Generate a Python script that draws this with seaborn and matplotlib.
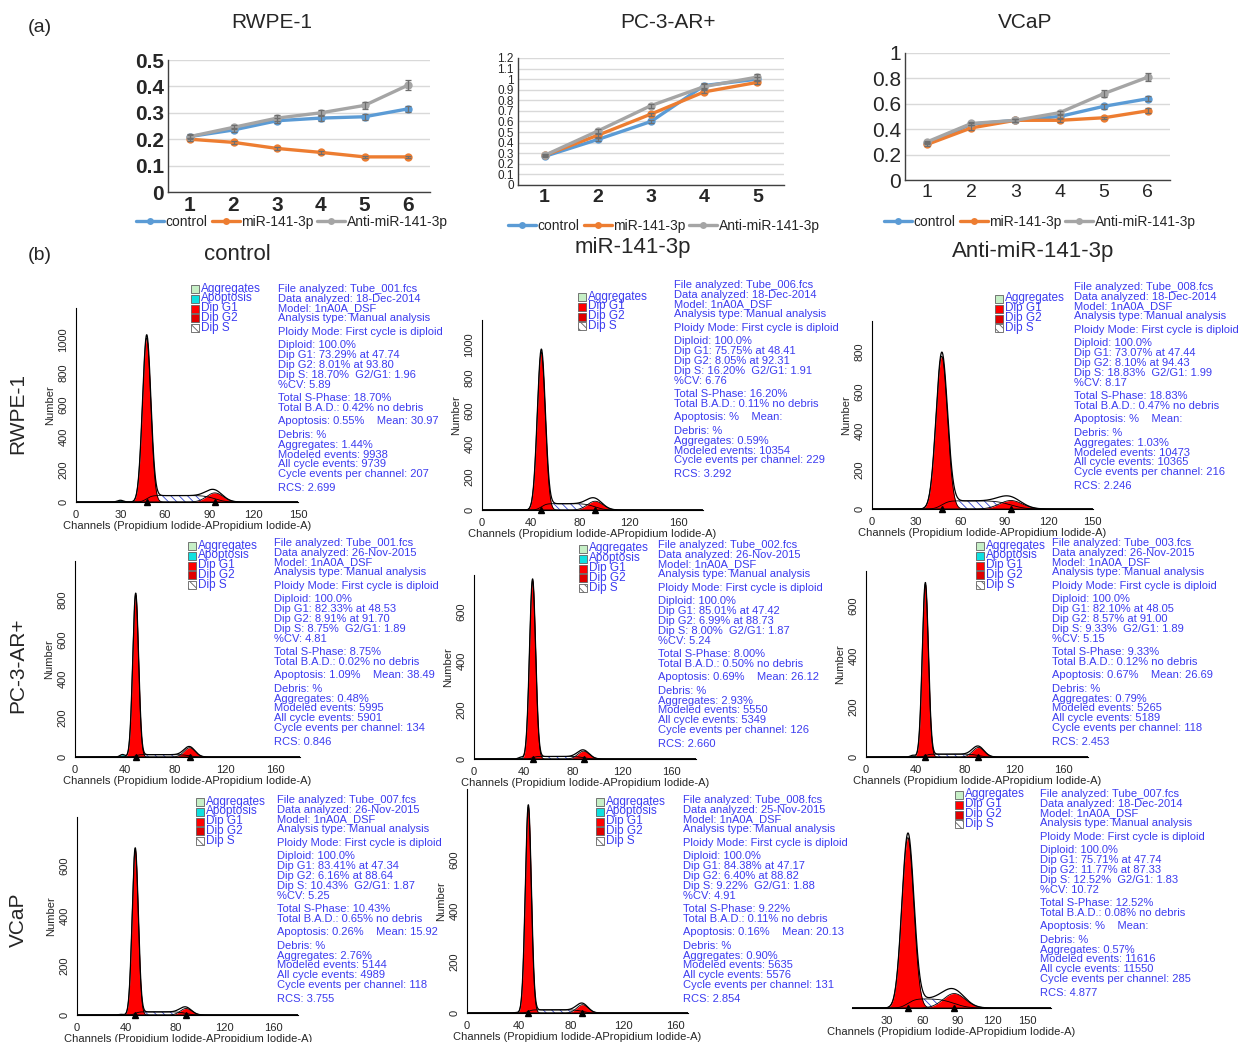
import math
import numpy as np
import pandas as pd
import matplotlib
matplotlib.use("Agg")
import matplotlib.pyplot as plt
from matplotlib.patches import Rectangle
from matplotlib.lines import Line2D
from matplotlib.ticker import MultipleLocator
import seaborn as sns

W, H = 1245, 1042

# ---- (a) growth curves ----
groups = ['control', 'miR-141-3p', 'Anti-miR-141-3p']

rwpe_days = [1, 2, 3, 4, 5, 6]
rwpe_control = [0.21, 0.235, 0.27, 0.28, 0.285, 0.315]
rwpe_mir = [0.20, 0.188, 0.165, 0.15, 0.133, 0.133]
rwpe_anti = [0.21, 0.245, 0.28, 0.30, 0.328, 0.405]
rwpe_err_control = [0.007, 0.007, 0.01, 0.012, 0.012, 0.012]
rwpe_err_mir = [0.005, 0.005, 0.006, 0.005, 0.005, 0.005]
rwpe_err_anti = [0.008, 0.008, 0.01, 0.012, 0.012, 0.02]

pc3_days = [1, 2, 3, 4, 5]
pc3_control = [0.27, 0.43, 0.60, 0.94, 1.0]
pc3_mir = [0.28, 0.47, 0.67, 0.88, 0.97]
pc3_anti = [0.28, 0.51, 0.75, 0.93, 1.02]
pc3_err_control = [0.01, 0.015, 0.015, 0.02, 0.02]
pc3_err_mir = [0.01, 0.015, 0.015, 0.015, 0.015]
pc3_err_anti = [0.01, 0.015, 0.02, 0.02, 0.03]

vcap_days = [1, 2, 3, 4, 5, 6]
vcap_control = [0.29, 0.44, 0.47, 0.50, 0.58, 0.64]
vcap_mir = [0.28, 0.41, 0.47, 0.47, 0.49, 0.545]
vcap_anti = [0.30, 0.445, 0.47, 0.53, 0.68, 0.81]
vcap_err_control = [0.01, 0.01, 0.01, 0.01, 0.02, 0.02]
vcap_err_mir = [0.01, 0.02, 0.01, 0.01, 0.01, 0.02]
vcap_err_anti = [0.01, 0.01, 0.01, 0.01, 0.025, 0.03]

# ---- (b) cell cycle analysis, row-major: RWPE-1, PC-3-AR+, VCaP ----
file_names = ['Tube_001.fcs', 'Tube_006.fcs', 'Tube_008.fcs',
              'Tube_001.fcs', 'Tube_002.fcs', 'Tube_003.fcs',
              'Tube_007.fcs', 'Tube_008.fcs', 'Tube_007.fcs']
dates = ['18-Dec-2014', '18-Dec-2014', '18-Dec-2014',
         '26-Nov-2015', '26-Nov-2015', '26-Nov-2015',
         '26-Nov-2015', '25-Nov-2015', '18-Dec-2014']
g1_pct = [73.29, 75.75, 73.07, 82.33, 85.01, 82.10, 83.41, 84.38, 75.71]
g1_pos = [47.74, 48.41, 47.44, 48.53, 47.42, 48.05, 47.34, 47.17, 47.74]
g2_pct = [8.01, 8.05, 8.10, 8.91, 6.99, 8.57, 6.16, 6.40, 11.77]
g2_pos = [93.80, 92.31, 94.43, 91.70, 88.73, 91.00, 88.64, 88.82, 87.33]
s_pct = [18.70, 16.20, 18.83, 8.75, 8.00, 9.33, 10.43, 9.22, 12.52]
g2g1 = [1.96, 1.91, 1.99, 1.89, 1.87, 1.89, 1.87, 1.88, 1.83]
cv = [5.89, 6.76, 8.17, 4.81, 5.24, 5.15, 5.25, 4.91, 10.72]
bad = [0.42, 0.11, 0.47, 0.02, 0.50, 0.12, 0.65, 0.11, 0.08]
apoptosis = [0.55, None, None, 1.09, 0.69, 0.67, 0.26, 0.16, None]
apop_pos = [30, None, None, 38, 38, 38, 36, 38, None]
mean_ch = [30.97, None, None, 38.49, 26.12, 26.69, 15.92, 20.13, None]
aggregates = [1.44, 0.59, 1.03, 0.48, 2.93, 0.79, 2.76, 0.90, 0.57]
modeled = [9938, 10354, 10473, 5995, 5550, 5265, 5144, 5635, 11616]
cycle_events = [9739, None, 10365, 5901, 5349, 5189, 4989, 5576, 11550]
per_channel = [207, 229, 216, 134, 126, 118, 118, 131, 285]
rcs = ['2.699', '3.292', '2.246', '0.846', '2.660', '2.453', '3.755', '2.854', '4.877']

sns.set_style("white")
plt.rcParams['font.family'] = ['Liberation Sans', 'DejaVu Sans']
plt.rcParams['hatch.linewidth'] = 0.6

fig = plt.figure(figsize=(12.45, 10.42), dpi=100)
BLUE = '#3c3cf0'
line_colors = {'control': '#5b9bd5', 'miR-141-3p': '#ed7d31', 'Anti-miR-141-3p': '#a5a5a5'}


def px_axes(left, top, right, bottom):
    return fig.add_axes([left / W, 1 - bottom / H, (right - left) / W, (bottom - top) / H])


def ftext(x, y, s, **kw):
    return fig.text(x / W, 1 - y / H, s, **kw)


def growth_panel(rect, title, title_xy, days, series, errs, ymax, ystep,
                 ysize, yweight, xsize, xweight, legend_xy):
    ax = px_axes(*rect)
    df = pd.DataFrame({
        'day': days * 3,
        'od': series[0] + series[1] + series[2],
        'group': sum([[g] * len(days) for g in groups], []),
    })
    sns.lineplot(data=df, x='day', y='od', hue='group', hue_order=groups,
                 palette=line_colors, marker='o', markersize=6, markeredgewidth=0,
                 linewidth=2.4, ax=ax, legend=False)
    for vals, err in zip(series, errs):
        ax.errorbar(days, vals, yerr=err, fmt='none', ecolor='#6f6f6f',
                    elinewidth=0.9, capsize=2, capthick=0.9)
    ax.set_xlim(0.5, len(days) + 0.5)
    ax.set_ylim(0, ymax)
    ax.set_xticks(days)
    yt = np.round(np.arange(0, ymax + 1e-9, ystep), 2)
    ax.set_yticks(yt)
    ax.set_yticklabels(['%g' % v for v in yt], fontsize=ysize, fontweight=yweight)
    ax.set_xticklabels([str(d) for d in days], fontsize=xsize, fontweight=xweight)
    ax.tick_params(length=0, pad=3)
    ax.yaxis.grid(True, color='#d9d9d9', lw=1)
    ax.set_axisbelow(True)
    for s in ['top', 'right']:
        ax.spines[s].set_visible(False)
    for s in ['left', 'bottom']:
        ax.spines[s].set_color('#404040')
        ax.spines[s].set_linewidth(1.0)
    ax.set_xlabel('')
    ax.set_ylabel('')
    ftext(title_xy[0], title_xy[1], title, ha='center', va='center', fontsize=15)
    handles = [Line2D([], [], color=line_colors[g], marker='o', markersize=5, lw=2.4,
                      markeredgewidth=0) for g in groups]
    fig.legend(handles, groups, loc='center', ncol=3, frameon=False, fontsize=10,
               bbox_to_anchor=(legend_xy[0] / W, 1 - legend_xy[1] / H),
               handlelength=2.0, handletextpad=0.1, columnspacing=0.3)
    return ax


growth_panel((168, 60, 430, 192), 'RWPE-1', (272, 22), rwpe_days,
             [rwpe_control, rwpe_mir, rwpe_anti],
             [rwpe_err_control, rwpe_err_mir, rwpe_err_anti],
             0.5, 0.1, 15, 'bold', 15, 'bold', (292, 222))
growth_panel((518, 58, 784, 185), 'PC-3-AR+', (668, 22), pc3_days,
             [pc3_control, pc3_mir, pc3_anti],
             [pc3_err_control, pc3_err_mir, pc3_err_anti],
             1.2, 0.1, 8.5, 'normal', 14, 'bold', (664, 226))
growth_panel((905, 53, 1170, 180), 'VCaP', (1025, 22), vcap_days,
             [vcap_control, vcap_mir, vcap_anti],
             [vcap_err_control, vcap_err_mir, vcap_err_anti],
             1.0, 0.2, 15, 'normal', 14, 'normal', (1040, 222))

ftext(40, 28, '(a)', fontsize=14, ha='center', va='center')
ftext(40, 255, '(b)', fontsize=14, ha='center', va='center')

# column / row headers
for (cx, cy), lbl in zip([(237, 254), (633, 248), (1033, 251)],
                         ['control', 'miR-141-3p', 'Anti-miR-141-3p']):
    ftext(cx, cy, lbl, fontsize=16, ha='center', va='center')
for cy, lbl in zip([413, 665, 920], ['RWPE-1', 'PC-3-AR+', 'VCaP']):
    ftext(18, cy, lbl, fontsize=15, ha='center', va='center', rotation=90)

# histogram geometry (pixel): x of channel 0, px per channel, y of count 0, px per count
hist_geo = [
    (76, 1.48, 502, 0.162, 150, 1200, 30, 1000),
    (482, 1.225, 510, 0.165, 180, 1150, 40, 1000),
    (872, 1.47, 509, 0.196, 150, 960, 30, 800),
    (75, 1.25, 757, 0.196, 180, 1000, 40, 800),
    (474, 1.235, 759, 0.245, 180, 750, 40, 600),
    (866, 1.235, 757, 0.252, 180, 740, 40, 600),
    (77, 1.23, 1015, 0.248, 180, 800, 40, 600),
    (467, 1.30, 1013, 0.255, 170, 880, 40, 600),
    (852, 1.17, 1008, 0.25, 170, 750, 30, 0),
]
text_xy = [(278, 284), (674, 280), (1074, 282), (274, 538), (658, 540), (1052, 538),
           (277, 795), (683, 795), (1040, 789)]
legend_xy = [(191, 284), (578, 292), (995, 294), (188, 541), (579, 544), (976, 541),
             (196, 797), (596, 797), (955, 790)]

serf = np.vectorize(math.erf)


def gauss(x, area, mu, sd):
    return area / (sd * math.sqrt(2 * math.pi)) * np.exp(-0.5 * ((x - mu) / sd) ** 2)


def draw_legend(x, y, with_apop):
    items = [('Aggregates', '#c6efc6', None)]
    if with_apop:
        items.append(('Apoptosis', '#10e0e0', None))
    items += [('Dip G1', '#ff0000', None), ('Dip G2', '#e00000', None),
              ('Dip S', 'white', '\\\\\\\\')]
    for i, (name, col, hatch) in enumerate(items):
        yy = y + i * 9.8
        fig.patches.append(Rectangle((x / W, 1 - (yy + 9) / H), 8 / W, 8 / H,
                                     transform=fig.transFigure, facecolor=col,
                                     edgecolor='#606060', lw=0.6, hatch=hatch))
        ftext(x + 10, yy + 4.5, name, fontsize=8.5, color=BLUE, va='center', ha='left')


def info_lines(i):
    ev = '' if cycle_events[i] is None else str(cycle_events[i])
    ap = '%' if apoptosis[i] is None else '%.2f%%' % apoptosis[i]
    mn = '' if mean_ch[i] is None else '%.2f' % mean_ch[i]
    groups_txt = [
        ['File analyzed: ' + file_names[i], 'Data analyzed: ' + dates[i],
         'Model: 1nA0A_DSF', 'Analysis type: Manual analysis'],
        ['Ploidy Mode: First cycle is diploid'],
        ['Diploid: 100.0%', 'Dip G1: %.2f%% at %.2f' % (g1_pct[i], g1_pos[i]),
         'Dip G2: %.2f%% at %.2f' % (g2_pct[i], g2_pos[i]),
         'Dip S: %.2f%%  G2/G1: %.2f' % (s_pct[i], g2g1[i]), '%%CV: %.2f' % cv[i]],
        ['Total S-Phase: %.2f%%' % s_pct[i], 'Total B.A.D.: %.2f%% no debris' % bad[i]],
        ['Apoptosis: %s    Mean: %s' % (ap, mn)],
        ['Debris: %', 'Aggregates: %.2f%%' % aggregates[i],
         'Modeled events: %d' % modeled[i]]
        + ([] if cycle_events[i] is None else ['All cycle events: ' + ev])
        + ['Cycle events per channel: %d' % per_channel[i]],
        ['RCS: ' + rcs[i]],
    ]
    return groups_txt


for i in range(9):
    x0, kx, yb, ky, xmax, ymax, xstep, ytop = hist_geo[i]
    ax = px_axes(x0, yb - ky * ymax, x0 + kx * xmax, yb)
    x = np.linspace(0, xmax, 1500)
    n = cycle_events[i] if cycle_events[i] is not None else modeled[i]
    m1, m2 = g1_pos[i], g2_pos[i]
    s1, s2 = m1 * cv[i] / 100, m2 * cv[i] / 100
    g1 = gauss(x, n * g1_pct[i] / 100, m1, s1)
    g2 = gauss(x, n * g2_pct[i] / 100, m2, s2)
    hs = n * s_pct[i] / 100 / (m2 - m1)
    sph = hs * 0.5 * (serf((x - m1) / (s1 * math.sqrt(2))) - serf((x - m2) / (s2 * math.sqrt(2))))
    total = g1 + g2 + sph
    if apoptosis[i] is not None:
        ap = gauss(x, n * apoptosis[i] / 100, apop_pos[i], 2.0)
        ax.fill_between(x, 0, ap, color='#10d0d0', lw=0)
        total = total + ap
    ax.fill_between(x, 0, sph, facecolor='white', edgecolor='#3344cc',
                    hatch='\\\\\\\\', lw=0)
    ax.fill_between(x, 0, g1, color='#ff0000', lw=0)
    ax.fill_between(x, 0, g2, color='#ff0000', lw=0)
    ax.plot(x, sph, color='black', lw=0.6)
    ax.plot(x, g1, color='black', lw=0.6)
    ax.plot(x, g2, color='black', lw=0.6)
    sns.lineplot(x=x, y=total, color='black', lw=0.9, ax=ax)
    ax.plot([m1, m2], [0, 0], linestyle='none', marker='^', color='black',
            markersize=5, clip_on=False)
    ax.set_xlim(0, xmax)
    ax.set_ylim(0, ymax)
    xt = np.arange(0 if xstep == 40 or i != 8 else 30, 161 if xstep == 40 else 151, xstep)
    ax.set_xticks(xt)
    ax.xaxis.set_minor_locator(MultipleLocator(10))
    ax.tick_params(axis='both', which='major', labelsize=8, length=4, width=0.7,
                   direction='out', pad=1.5)
    ax.tick_params(axis='both', which='minor', length=2, width=0.6, direction='out')
    ax.set_xlabel('Channels (Propidium Iodide-APropidium Iodide-A)', fontsize=8, labelpad=1)
    for s in ['top', 'right']:
        ax.spines[s].set_visible(False)
    for s in ['left', 'bottom']:
        ax.spines[s].set_linewidth(0.8)
        ax.spines[s].set_color('black')
    if ytop > 0:
        ax.set_yticks(np.arange(0, ytop + 1, 200))
        ax.yaxis.set_minor_locator(MultipleLocator(50))
        for lbl in ax.get_yticklabels():
            lbl.set_rotation(90)
            lbl.set_va('center')
        ax.set_ylabel('Number', fontsize=8, labelpad=2)
    else:
        ax.spines['left'].set_visible(False)
        ax.set_yticks([])
        ax.set_ylabel('')
    ax.patch.set_alpha(0)

    draw_legend(legend_xy[i][0], legend_xy[i][1], apoptosis[i] is not None)
    tx, ty = text_xy[i]
    yy = ty
    for gi, grp in enumerate(info_lines(i)):
        if gi > 0:
            yy += 13.5 - 9.8
        for line in grp:
            ftext(tx, yy + 5, line, fontsize=8, color=BLUE, ha='left', va='center')
            yy += 9.8

fig.savefig('out.png', dpi=100)
